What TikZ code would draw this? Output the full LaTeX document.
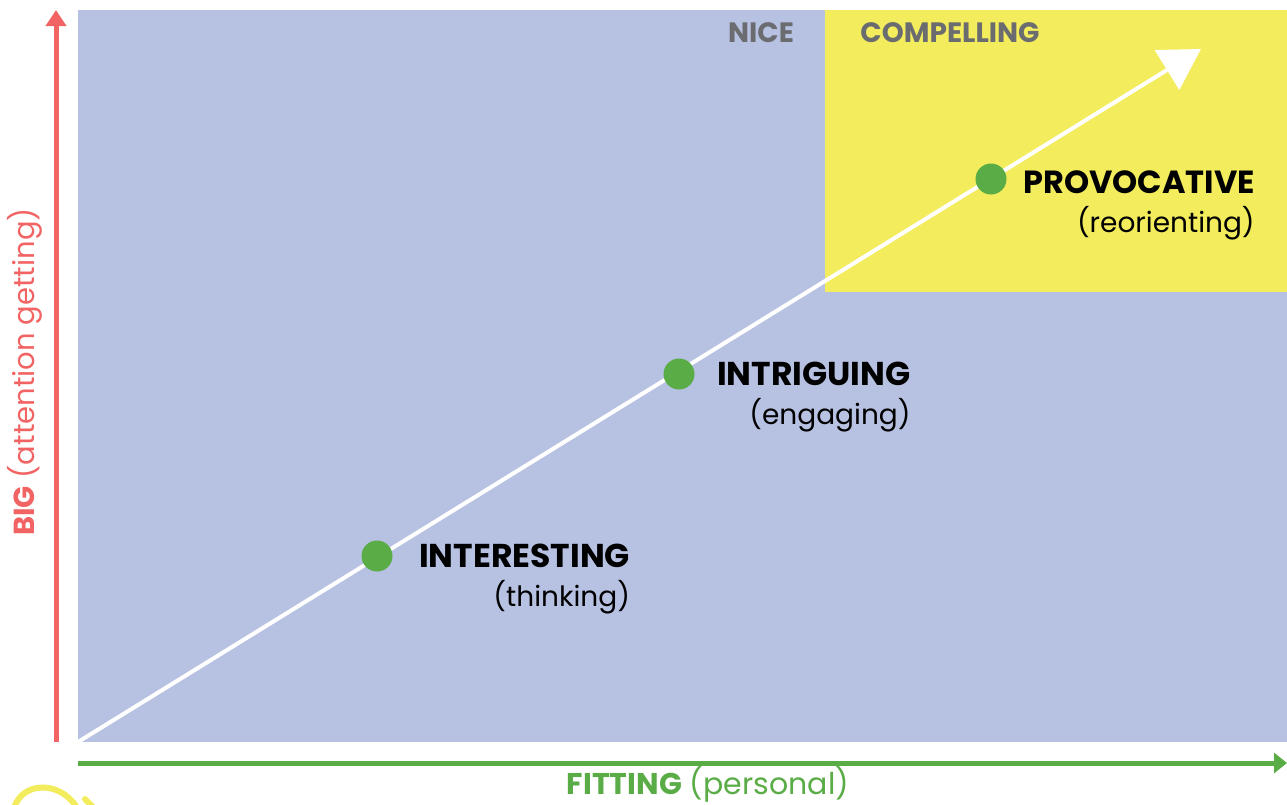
\documentclass[tikz,border=0pt]{standalone}
\usepackage{fontspec}
\setmainfont{Poppins}
\usetikzlibrary{arrows.meta,positioning}
\definecolor{pane}{HTML}{B7C1E2}
\definecolor{sun}{HTML}{F3EC5C}
\definecolor{bigred}{HTML}{F26464}
\definecolor{fitgreen}{HTML}{5AAC47}
\definecolor{dim}{HTML}{6B6C70}

\begin{document}
\begin{tikzpicture}[
    x=1pt,y=-1pt,
    dot/.style={circle,fill=fitgreen,inner sep=0pt,minimum size=31pt},
    line/.style={line width=4pt,white,-{Triangle[length=40pt,width=46pt]}},
    title/.style={font=\bfseries\fontsize{33}{36}\selectfont,inner sep=0pt,anchor=west},
    sub/.style={font=\fontsize{28}{32}\selectfont,inner sep=0pt},
    corner/.style={font=\bfseries\fontsize{28}{32}\selectfont,text=dim,inner sep=0pt}
    ]
    \useasboundingbox (0,0) rectangle (1287,804);
    \fill[pane] (78,10) rectangle (1287,742);
    \fill[sun] (825,10) rectangle (1287,292);
    % axes
    \coordinate (o) at (78,742);
    \coordinate (tip) at (1201,49);
    \draw[bigred,line width=5pt,-{Triangle[length=16pt,width=20pt]}] (56,742) -- (56,10);
    \draw[fitgreen,line width=5pt,-{Triangle[length=13pt,width=20pt]}] (78,763) -- (1287,763);
    \node[rotate=90,font=\fontsize{29}{32}\selectfont,text=bigred,inner sep=0pt] (ylab) at (25,372)
      {\textbf{BIG} (attention getting)};
    \node[font=\fontsize{30}{34}\selectfont,text=fitgreen,inner sep=0pt] (xlab) at (708,784)
      {\textbf{FITTING} (personal)};
    \node[corner] (nice) at (761,33) {NICE};
    \node[corner] (comp) at (950,33) {COMPELLING};
    % path
    \draw[line] (o) -- (tip);
    \node[dot] (d1) at (377,556) {};
    \node[dot] (d2) at (679,374) {};
    \node[dot] (d3) at (991,179) {};
    \node[title] (t1) at (419,556) {INTERESTING};
    \node[sub,below=41pt of t1.east,anchor=east] (s1) {(thinking)};
    \node[title] (t2) at (717,374) {INTRIGUING};
    \node[sub,below=41pt of t2.east,anchor=east] (s2) {(engaging)};
    \node[title,font=\bfseries\fontsize{32}{36}\selectfont] (t3) at (1023,182) {PROVOCATIVE};
    \node[sub,below=41pt of t3.east,anchor=east] (s3) {(reorienting)};
    % bit of yellow scribble
    \draw[sun,line width=6pt,line cap=round] (14,808) .. controls (22,782) and (58,780) .. (76,806);
    \draw[sun,line width=6pt,line cap=round] (85,799) -- (94,808);
\end{tikzpicture}
\end{document}
